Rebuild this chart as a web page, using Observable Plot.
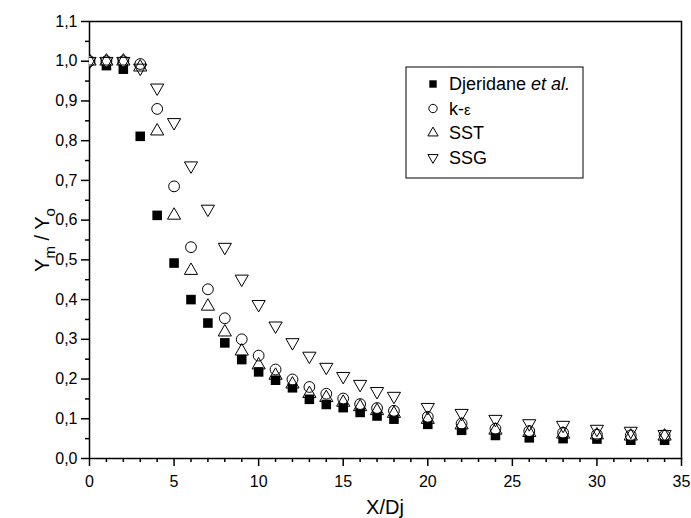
<!DOCTYPE html>
<html><head><meta charset="utf-8">
<script src="https://cdn.jsdelivr.net/npm/d3@7"></script>
<script src="https://cdn.jsdelivr.net/npm/@observablehq/plot@0.6"></script>
<style>body{margin:0;background:#fff} #chart{width:691px;height:518px}</style>
</head><body><div id="chart"></div>
<script>
// ---- data ----
const expX      = [1,2,3,4,5,6,7,8,9,10,11,12,13,14,15,16,17,18,20,22,24,26,28,30,32,34];
const djeridane = [0.989,0.980,0.811,0.612,0.492,0.400,0.341,0.291,0.249,0.218,0.197,0.178,0.149,0.136,0.128,0.116,0.107,0.099,0.086,0.071,0.058,0.052,0.050,0.049,0.046,0.046];
const modelX    = [0,1,2,3,4,5,6,7,8,9,10,11,12,13,14,15,16,17,18,20,22,24,26,28,30,32,34];
const kEps      = [1.0,1.0,1.0,0.993,0.880,0.685,0.532,0.426,0.353,0.300,0.259,0.224,0.199,0.180,0.163,0.151,0.137,0.127,0.120,0.105,0.088,0.075,0.069,0.065,0.060,0.058,0.058];
const sst       = [1.0,1.0,1.0,0.985,0.824,0.612,0.473,0.383,0.318,0.270,0.235,0.209,0.187,0.163,0.153,0.141,0.130,0.120,0.113,0.098,0.084,0.071,0.065,0.061,0.059,0.056,0.056];
const ssg       = [1.0,1.0,1.0,0.983,0.933,0.846,0.737,0.628,0.532,0.452,0.388,0.334,0.292,0.258,0.230,0.207,0.187,0.169,0.157,0.129,0.114,0.099,0.088,0.084,0.074,0.069,0.061];
const seriesNames = ["Djeridane", "k-ε", "SST", "SSG"];
const xTicks = [0,5,10,15,20,25,30,35];
const xMinorTicks = [1,2,3,4,6,7,8,9,11,12,13,14,16,17,18,19,21,22,23,24,26,27,28,29,31,32,33,34];
const yTicks = [0,0.1,0.2,0.3,0.4,0.5,0.6,0.7,0.8,0.9,1.0,1.1];
const yMinorTicks = [0.05,0.15,0.25,0.35,0.45,0.55,0.65,0.75,0.85,0.95,1.05];

// ---- build tables ----
const expData = expX.map((x,i)=>({x, y: djeridane[i]}));
const keData  = modelX.map((x,i)=>({x, y: kEps[i]}));
const sstData = modelX.map((x,i)=>({x, y: sst[i]}));
const ssgData = modelX.map((x,i)=>({x, y: ssg[i]}));

const downTriangle = {
  draw(context, size) {
    const s3 = Math.sqrt(3);
    const y = -Math.sqrt(size / (s3 * 3));
    context.moveTo(0, -y * 2);
    context.lineTo(-s3 * y, y);
    context.lineTo(s3 * y, y);
    context.closePath();
  }
};

const font = "'Liberation Sans', Arial, Helvetica, sans-serif";
const fmt = d => d.toFixed(1).replace(".", ",");

const plot = Plot.plot({
  width: 691, height: 518,
  marginLeft: 89, marginRight: 10, marginTop: 21, marginBottom: 60,
  x: {domain: [0, 35]},
  y: {domain: [0, 1.1]},
  style: {fontFamily: font, fontSize: "16px", color: "black", background: "white"},
  marks: [
    Plot.axisX({ticks: xMinorTicks, tickSize: 4, tickFormat: () => "", strokeWidth: 1.5, label: null}),
    Plot.axisX({ticks: xTicks, tickSize: 8, tickPadding: 9, tickFormat: d => String(d), strokeWidth: 1.5, label: null, fontSize: 16}),
    Plot.axisY({ticks: yMinorTicks, tickSize: 4, tickFormat: () => "", strokeWidth: 1.5, label: null}),
    Plot.axisY({ticks: yTicks, tickSize: 8, tickPadding: 4, tickFormat: fmt, strokeWidth: 1.5, label: null, fontSize: 16}),
    Plot.frame({stroke: "black", strokeWidth: 1.5}),
    Plot.dot(expData, {x: "x", y: "y", symbol: "square", r: 5.4, fill: "black", stroke: "none", clip: true}),
    Plot.dot(keData, {x: "x", y: "y", symbol: "circle", r: 5.4, fill: "white", stroke: "black", strokeWidth: 1, clip: true}),
    Plot.dot(sstData, {x: "x", y: "y", symbol: "triangle", r: 4.9, fill: "none", stroke: "black", strokeWidth: 1, clip: true}),
    Plot.dot(ssgData, {x: "x", y: "y", symbol: downTriangle, r: 4.9, fill: "none", stroke: "black", strokeWidth: 1, clip: true})
  ]
});
document.getElementById("chart").appendChild(plot);

const svg = d3.select(plot);
// axis titles
svg.append("text").attr("x", 385).attr("y", 514).attr("text-anchor", "middle")
  .attr("font-family", font).attr("font-size", 20).attr("fill", "black").text("X/Dj");
const yl = svg.append("text").attr("transform", "translate(49,240) rotate(-90)")
  .attr("text-anchor", "middle").attr("font-family", font).attr("font-size", 20).attr("fill", "black");
yl.append("tspan").text("Y");
yl.append("tspan").attr("dy", 6).attr("font-size", 15).text("m");
yl.append("tspan").attr("dy", -6).text(" / Y");
yl.append("tspan").attr("dy", 6).attr("font-size", 15).text("o");

// legend
const lg = svg.append("g");
lg.append("rect").attr("x", 406).attr("y", 67).attr("width", 177).attr("height", 111)
  .attr("fill", "white").attr("stroke", "black").attr("stroke-width", 1);
const legSymbols = [
  {sym: d3.symbolSquare, size: 55, fill: "black", stroke: "none"},
  {sym: d3.symbolCircle, size: 55, fill: "white", stroke: "black"},
  {sym: d3.symbolTriangle, size: 45, fill: "none", stroke: "black"},
  {sym: downTriangle, size: 45, fill: "none", stroke: "black"}
];
seriesNames.forEach((name, i) => {
  const cy = 84 + i * 24.5;
  const s = legSymbols[i];
  lg.append("path").attr("d", d3.symbol(s.sym, s.size)()).attr("transform", `translate(433,${cy})`)
    .attr("fill", s.fill).attr("stroke", s.stroke).attr("stroke-width", 1);
  const t = lg.append("text").attr("x", 449).attr("y", cy).attr("dy", "0.36em")
    .attr("text-anchor", "start")
    .attr("font-family", font).attr("font-size", 18).attr("fill", "black");
  if (i === 0) {
    t.append("tspan").text(name + " ");
    t.append("tspan").attr("font-style", "italic").text("et al.");
  } else if (i === 1) {
    t.append("tspan").text("k-");
    t.append("tspan").attr("font-size", 15).text("ε");
  } else {
    t.text(name);
  }
});
</script>
</body></html>
